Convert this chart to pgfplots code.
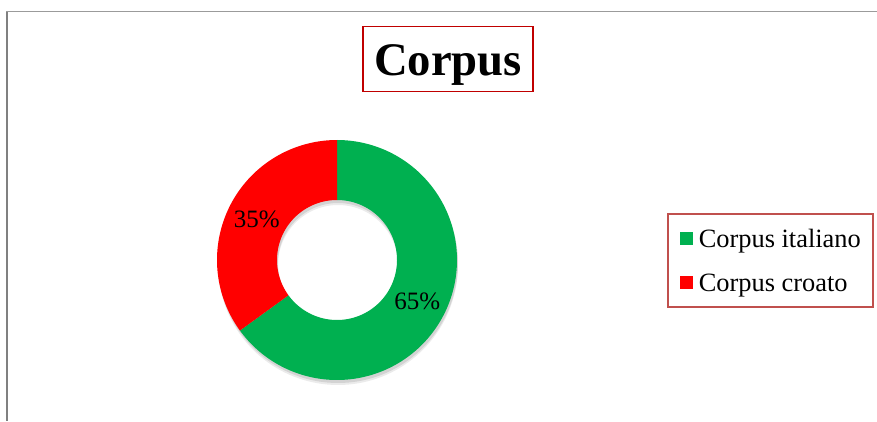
\documentclass[border=0pt]{standalone}
\usepackage{fontspec}
\setmainfont{Liberation Serif}
\usepackage{pgfplots}
\usepackage{pgfplotstable}
\pgfplotsset{compat=1.18}
\definecolor{itgreen}{RGB}{0,176,80}
\definecolor{hrred}{RGB}{255,0,0}
\definecolor{titlered}{RGB}{192,0,0}
\definecolor{legred}{RGB}{192,80,77}
\definecolor{framegray}{RGB}{128,128,128}
\definecolor{topgray}{RGB}{155,155,155}

\pgfplotstableread{
share
65
35
}\donuttable

\begin{document}
\begin{tikzpicture}
\pgfplotstablegetelem{0}{share}\of\donuttable \let\vA\pgfplotsretval
\pgfplotstablegetelem{1}{share}\of\donuttable \let\vB\pgfplotsretval
\pgfmathsetmacro{\aZero}{90}
\pgfmathsetmacro{\aOne}{90-3.6*\vA}
\pgfmathsetmacro{\aTwo}{\aOne-3.6*\vB}
\pgfmathsetmacro{\mA}{(\aZero+\aOne)/2}
\pgfmathsetmacro{\mB}{(\aOne+\aTwo)/2}
\pgfmathsetmacro{\lAx}{337+90*cos(\mA)}
\pgfmathsetmacro{\lAy}{161+90*sin(\mA)}
\pgfmathsetmacro{\lBx}{337+90*cos(\mB)}
\pgfmathsetmacro{\lBy}{161+90*sin(\mB)}
\useasboundingbox (0,0) rectangle (877pt,421pt);
\begin{axis}[
  at={(0,0)}, anchor=south west,
  scale only axis, width=877pt, height=421pt,
  xmin=0, xmax=877, ymin=0, ymax=421,
  hide axis, clip=false,
  legend style={at={(axis cs:667,208)}, anchor=north west,
    draw=legred, line width=1.5pt, fill=white,
    inner xsep=12pt, inner ysep=6pt,
    font=\fontsize{26.4}{30}\selectfont,
    row sep=7pt, column sep=6pt,
    nodes={inner sep=0pt, text height=28pt, text depth=9pt}},
  legend cell align=left,
  legend image code/.code={\fill[#1] (0pt,-6.5pt) rectangle (13pt,6.5pt);},
]
% soft shadow
\addplot[forget plot, draw=none, fill=black, fill opacity=0.10, domain=0:3, samples=451]
  ({338+(120-60*max(0,min(1,\x-1)))*cos(90+(min(\x,1)-max(0,min(1,\x-2)))*(-360))},
   {158+(120-60*max(0,min(1,\x-1)))*sin(90+(min(\x,1)-max(0,min(1,\x-2)))*(-360))});
\addplot[forget plot, draw=none, fill=black, fill opacity=0.08, domain=0:3, samples=451]
  ({338+(120-60*max(0,min(1,\x-1)))*cos(90+(min(\x,1)-max(0,min(1,\x-2)))*(-360))},
   {156+(120-60*max(0,min(1,\x-1)))*sin(90+(min(\x,1)-max(0,min(1,\x-2)))*(-360))});
% slices
\addplot[draw=none, fill=itgreen, domain=0:3, samples=451]
  ({337+(120-60*max(0,min(1,\x-1)))*cos(\aZero+(min(\x,1)-max(0,min(1,\x-2)))*(\aOne-\aZero))},
   {161+(120-60*max(0,min(1,\x-1)))*sin(\aZero+(min(\x,1)-max(0,min(1,\x-2)))*(\aOne-\aZero))});
\addlegendentry{Corpus italiano}
\addplot[draw=none, fill=hrred, domain=0:3, samples=451]
  ({337+(120-60*max(0,min(1,\x-1)))*cos(\aOne+(min(\x,1)-max(0,min(1,\x-2)))*(\aTwo-\aOne))},
   {161+(120-60*max(0,min(1,\x-1)))*sin(\aOne+(min(\x,1)-max(0,min(1,\x-2)))*(\aTwo-\aOne))});
\addlegendentry{Corpus croato}
% labels
\node[font=\fontsize{25}{30}\selectfont, inner sep=0pt] at (axis cs:\lAx,\lAy) {65\%};
\node[font=\fontsize{25}{30}\selectfont, inner sep=0pt] at (axis cs:\lBx,\lBy) {35\%};
% title
\node[draw=titlered, line width=1.5pt, inner sep=0pt, minimum width=170pt,
      text height=49pt, text depth=16pt, font=\fontsize{46.7}{50}\selectfont\bfseries,
      anchor=north] at (axis cs:448,395) {Corpus};
% frame
\draw[framegray, line width=2pt] (axis cs:7,410) -- (axis cs:7,0);
\draw[topgray, line width=1.2pt] (axis cs:6,409.5) -- (axis cs:877,409.5);
\end{axis}
\end{tikzpicture}
\end{document}
